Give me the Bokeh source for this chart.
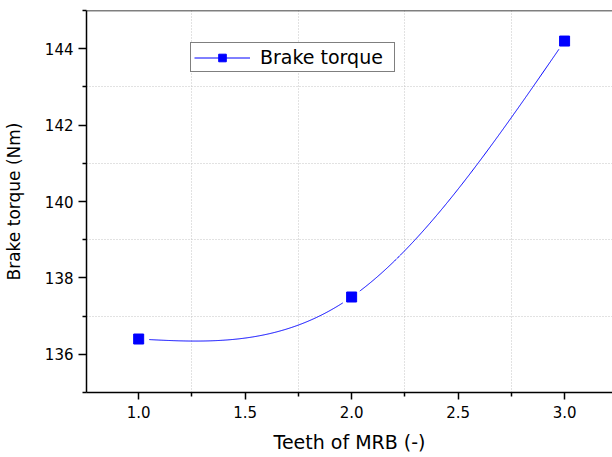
import numpy as np
from bokeh.plotting import figure
from bokeh.models import (LinearAxis, FixedTicker, Range1d, Legend, LegendItem,
                          NumeralTickFormatter, Grid, Span)
from bokeh.embed import file_html
from bokeh.resources import INLINE

# ---- data ----
teeth = [1.0, 2.0, 3.0]
torque = [136.4, 137.5, 144.2]
x_ticks = [1.0, 1.5, 2.0, 2.5, 3.0]
x_minor = [0.75, 1.25, 1.75, 2.25, 2.75, 3.25]
y_ticks = [136, 138, 140, 142, 144]
y_minor = [135, 137, 139, 141, 143, 145]
x_grid = [1.25, 1.75, 2.25, 2.75]
y_grid = [137, 139, 141, 143]
x_label = "Teeth of MRB (-)"
y_label = "Brake torque (Nm)"
series_name = "Brake torque"

FONT = "DejaVu Sans"
BLUE = "#0000ff"

X0, X1 = 0.755, 3.225
Y0, Y1 = 135.0, 145.0
W, H = 612, 457
BL, BR, BT, BB = 86, 0, 10, 65


def natural_spline(x, y, n=600):
    x = np.asarray(x, float)
    y = np.asarray(y, float)
    k = len(x)
    h = np.diff(x)
    A = np.zeros((k, k))
    b = np.zeros(k)
    A[0, 0] = A[-1, -1] = 1.0
    for i in range(1, k - 1):
        A[i, i - 1] = h[i - 1]
        A[i, i] = 2 * (h[i - 1] + h[i])
        A[i, i + 1] = h[i]
        b[i] = 6 * ((y[i + 1] - y[i]) / h[i] - (y[i] - y[i - 1]) / h[i - 1])
    M = np.linalg.solve(A, b)
    xs = np.linspace(x[0], x[-1], n)
    idx = np.clip(np.searchsorted(x, xs) - 1, 0, k - 2)
    xa, xb = x[idx], x[idx + 1]
    hh = xb - xa
    t0, t1 = xb - xs, xs - xa
    ys = (M[idx] * t0 ** 3 / (6 * hh) + M[idx + 1] * t1 ** 3 / (6 * hh)
          + (y[idx] / hh - M[idx] * hh / 6) * t0
          + (y[idx + 1] / hh - M[idx + 1] * hh / 6) * t1)
    return xs, ys


xs, ys = natural_spline(teeth, torque)
# leave a small gap around each marker (as the original software does)
sx = (W - BL - BR) / (X1 - X0)
sy = (H - BT - BB) / (Y1 - Y0)
mask = np.zeros_like(xs, dtype=bool)
for tx, ty in zip(teeth, torque):
    d = np.hypot((xs - tx) * sx, (ys - ty) * sy)
    mask |= d < 10
ys_gap = ys.copy()
ys_gap[mask] = np.nan

p = figure(width=W, height=H, output_backend="svg", toolbar_location=None,
           x_range=Range1d(X0, X1), y_range=Range1d(Y0, Y1),
           x_axis_type=None, y_axis_type=None,
           min_border_left=BL, min_border_right=BR,
           min_border_top=BT, min_border_bottom=BB)
p.outline_line_color = None
p.background_fill_color = "white"
p.border_fill_color = "white"

# axes
xaxis = LinearAxis(ticker=FixedTicker(ticks=x_ticks, minor_ticks=x_minor),
                   formatter=NumeralTickFormatter(format="0.0"))
yaxis = LinearAxis(ticker=FixedTicker(ticks=y_ticks, minor_ticks=y_minor))
for ax in (xaxis, yaxis):
    ax.axis_line_color = "black"
    ax.axis_line_width = 1.5
    ax.major_tick_line_color = "black"
    ax.major_tick_line_width = 1.5
    ax.minor_tick_line_color = "black"
    ax.minor_tick_line_width = 1.5
    ax.major_tick_in = 0
    ax.minor_tick_in = 0
    ax.major_tick_out = 8
    ax.minor_tick_out = 4
    ax.major_label_text_font = FONT
    ax.major_label_text_font_size = "15px"
    ax.major_label_text_color = "black"
    ax.axis_label_text_font = FONT
    ax.axis_label_text_font_style = "normal"
    ax.axis_label_text_color = "black"
xaxis.axis_label = x_label
yaxis.axis_label = y_label
xaxis.axis_label_text_font_size = "19px"
yaxis.axis_label_text_font_size = "17px"
xaxis.major_tick_out = 7
xaxis.major_label_standoff = 6
xaxis.axis_label_standoff = 10
yaxis.major_label_standoff = 5
yaxis.axis_label_standoff = 18
p.add_layout(xaxis, "below")
p.add_layout(yaxis, "left")

# top frame line
p.add_layout(Span(location=Y1, dimension="width", line_color="black",
                  line_width=1.5))

# grid at the minor positions, dotted
xg = Grid(dimension=0, ticker=FixedTicker(ticks=x_grid),
          grid_line_color="#c4c4c4", grid_line_dash="1 2", grid_line_width=1)
yg = Grid(dimension=1, ticker=FixedTicker(ticks=y_grid),
          grid_line_color="#c4c4c4", grid_line_dash="1 2", grid_line_width=1)
p.add_layout(xg, "center")
p.add_layout(yg, "center")

curve = p.line(xs, ys_gap, line_color=BLUE, line_width=1)
pts = p.scatter(teeth, torque, marker="square", size=10,
                fill_color=BLUE, line_color=BLUE)

legend = Legend(items=[LegendItem(label=series_name, renderers=[curve, pts])],
                location=(104, 320), orientation="vertical",
                glyph_width=56, glyph_height=19, label_height=19,
                label_width=131, label_standoff=10, padding=3, spacing=0,
                margin=0,
                label_text_font=FONT, label_text_font_size="19px",
                label_text_color="black",
                border_line_color="black", border_line_width=1,
                background_fill_color="white", background_fill_alpha=1)
p.add_layout(legend, "center")

open("out.html", "w").write(file_html(p, INLINE))
